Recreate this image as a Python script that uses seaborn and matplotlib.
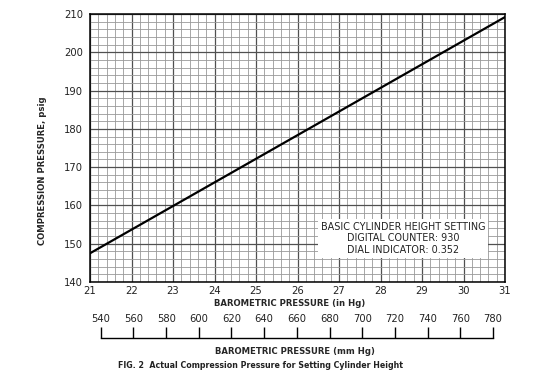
import numpy as np
import pandas as pd
import matplotlib
matplotlib.use("Agg")
import matplotlib.pyplot as plt
import seaborn as sns
from matplotlib.ticker import MultipleLocator

# Data
baro_inhg = [21.0, 31.0]
comp_psig = [147.5, 209.2]
x_ticks = [21, 22, 23, 24, 25, 26, 27, 28, 29, 30, 31]
y_ticks = [140, 150, 160, 170, 180, 190, 200, 210]
mm_ticks = [540, 560, 580, 600, 620, 640, 660, 680, 700, 720, 740, 760, 780]
box_lines = ["BASIC CYLINDER HEIGHT SETTING", "DIGITAL COUNTER: 930", "DIAL INDICATOR: 0.352"]

sns.set_style("white")
plt.rcParams['font.family'] = ['DejaVu Sans']

W, H = 543, 372
fig = plt.figure(figsize=(W / 100, H / 100), dpi=100)
L, R, T, B = 90, 505, 14, 282
ax = fig.add_axes([L / W, 1 - B / H, (R - L) / W, (B - T) / H])

df = pd.DataFrame({"in": baro_inhg, "psig": comp_psig})
sns.lineplot(data=df, x="in", y="psig", ax=ax, color="black", linewidth=1.6)

ax.set_xlim(21, 31)
ax.set_ylim(140, 210)
ax.set_xticks(x_ticks)
ax.set_yticks(y_ticks)
ax.xaxis.set_minor_locator(MultipleLocator(0.2))
ax.yaxis.set_minor_locator(MultipleLocator(2))
ax.grid(which="major", color="#505050", linewidth=0.9)
ax.grid(which="minor", color="#999999", linewidth=0.6)
ax.set_axisbelow(True)
for s in ax.spines.values():
    s.set_color("black")
    s.set_linewidth(1.1)
ax.tick_params(which="both", length=0, labelsize=7.2, colors="#222222")
ax.tick_params(axis="y", pad=5)
ax.tick_params(axis="x", pad=3)

ax.set_xlabel("BAROMETRIC PRESSURE (in Hg)", fontsize=6.1, fontweight="bold")
ax.xaxis.set_label_coords((290 - L) / (R - L), -(299 - B) / (B - T))
ax.set_ylabel("COMPRESSION PRESSURE, psig", fontsize=6.1, fontweight="bold")
ax.yaxis.set_label_coords((47 - L) / (R - L), (B - 171) / (B - T))

ax.text(28.55, 151.4, "\n".join(box_lines), ha="center", va="center", fontsize=6.9,
        color="#222222", linespacing=1.2,
        bbox=dict(boxstyle="square,pad=0.3", facecolor="white", edgecolor="none"))

# mm Hg scale
top_mm, spine_mm = 327, 338
ax2 = fig.add_axes([L / W, 1 - spine_mm / H, (R - L) / W, (spine_mm - top_mm) / H])
ax2.set_xlim(21 * 25.4, 31 * 25.4)
ax2.set_ylim(0, 1)
ax2.set_xticks(mm_ticks)
ax2.set_yticks([])
ax2.patch.set_alpha(0)
for k in ["top", "left", "right"]:
    ax2.spines[k].set_visible(False)
ax2.spines["bottom"].set_bounds(540, 780)
ax2.spines["bottom"].set_linewidth(1.0)
ax2.spines["bottom"].set_color("black")
ax2.tick_params(axis="x", direction="in", length=(spine_mm - top_mm) * 0.72, width=1.0,
                color="black", bottom=True, top=False, labelbottom=False, labeltop=True,
                labelsize=7.2, labelcolor="#222222", pad=2)

fig.text(295 / W, 1 - 351 / H, "BAROMETRIC PRESSURE (mm Hg)", ha="center", va="center",
         fontsize=6.1, fontweight="bold")
fig.text(261 / W, 1 - 366 / H, "FIG. 2  Actual Compression Pressure for Setting Cylinder Height",
         ha="center", va="center", fontsize=5.7, fontweight="bold", color="#222222")

fig.savefig("out.png", dpi=100)
